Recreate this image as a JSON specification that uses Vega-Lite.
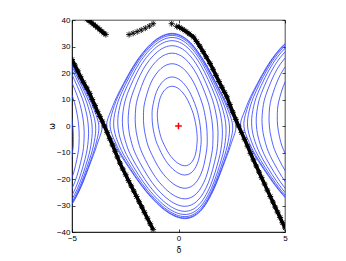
{
"$schema": "https://vega.github.io/schema/vega-lite/v6.json",
"autosize": "none",
"width": 213, "height": 212,
"padding": {"left": 72, "top": 20, "right": 61, "bottom": 29},
"background": "white",
"config": {
  "view": {"stroke": "#000", "strokeWidth": 0.7},
  "axis": {"grid": false, "domainColor": "#000", "domainWidth": 0.7, "tickColor": "#000", "tickWidth": 0.7, "tickSize": -3, "labelColor": "#000", "labelFont": "Liberation Sans", "labelFontSize": 8, "labelFlush": false, "titleFont": "DejaVu Sans", "titleFontSize": 8, "titleFontWeight": "normal", "titleColor": "#000", "labelPadding": 5}
},
"datasets": {
"center": [
{"o":1,"i":0,"d":-0.300,"w":15},{"o":1,"i":1,"d":0.043,"w":13.86},{"o":1,"i":2,"d":0.373,"w":10.61},{"o":1,"i":3,"d":0.646,"w":5.74},{"o":1,"i":4,"d":0.759,"w":2.60},{"o":1,"i":5,"d":0.823,"w":0},{"o":1,"i":6,"d":0.863,"w":-2.60},{"o":1,"i":7,"d":0.876,"w":-5.74},{"o":1,"i":8,"d":0.797,"w":-10.61},{"o":1,"i":9,"d":0.598,"w":-13.86},{"o":1,"i":10,"d":0.300,"w":-15},{"o":1,"i":11,"d":-0.061,"w":-13.86},{"o":1,"i":12,"d":-0.435,"w":-10.61},{"o":1,"i":13,"d":-0.753,"w":-5.74},{"o":1,"i":14,"d":-0.880,"w":-2.60},{"o":1,"i":15,"d":-0.948,"w":0},{"o":1,"i":16,"d":-0.984,"w":2.60},{"o":1,"i":17,"d":-0.983,"w":5.74},{"o":1,"i":18,"d":-0.859,"w":10.61},{"o":1,"i":19,"d":-0.616,"w":13.86},
{"o":2,"i":0,"d":-0.30,"w":18.5},{"o":2,"i":1,"d":0.116,"w":17.09},{"o":2,"i":2,"d":0.507,"w":13.08},{"o":2,"i":3,"d":0.825,"w":7.08},{"o":2,"i":4,"d":0.951,"w":3.21},{"o":2,"i":5,"d":1.019,"w":0},{"o":2,"i":6,"d":1.055,"w":-3.21},{"o":2,"i":7,"d":1.054,"w":-7.08},{"o":2,"i":8,"d":0.931,"w":-13.08},{"o":2,"i":9,"d":0.671,"w":-17.09},{"o":2,"i":10,"d":0.30,"w":-18.5},{"o":2,"i":11,"d":-0.144,"w":-17.09},{"o":2,"i":12,"d":-0.602,"w":-13.08},{"o":2,"i":13,"d":-0.987,"w":-7.08},{"o":2,"i":14,"d":-1.135,"w":-3.21},{"o":2,"i":15,"d":-1.209,"w":0},{"o":2,"i":16,"d":-1.239,"w":3.21},{"o":2,"i":17,"d":-1.217,"w":7.08},{"o":2,"i":18,"d":-1.026,"w":13.08},{"o":2,"i":19,"d":-0.699,"w":17.09},
{"o":3,"i":0,"d":-0.30,"w":23.5},{"o":3,"i":1,"d":0.220,"w":21.71},{"o":3,"i":2,"d":0.701,"w":16.62},{"o":3,"i":3,"d":1.093,"w":8.99},{"o":3,"i":4,"d":1.244,"w":4.08},{"o":3,"i":5,"d":1.319,"w":0},{"o":3,"i":6,"d":1.348,"w":-4.08},{"o":3,"i":7,"d":1.322,"w":-8.99},{"o":3,"i":8,"d":1.125,"w":-16.62},{"o":3,"i":9,"d":0.775,"w":-21.71},{"o":3,"i":10,"d":0.30,"w":-23.5},{"o":3,"i":11,"d":-0.265,"w":-21.71},{"o":3,"i":12,"d":-0.854,"w":-16.62},{"o":3,"i":13,"d":-1.355,"w":-8.99},{"o":3,"i":14,"d":-1.541,"w":-4.08},{"o":3,"i":15,"d":-1.626,"w":0},{"o":3,"i":16,"d":-1.645,"w":4.08},{"o":3,"i":17,"d":-1.584,"w":8.99},{"o":3,"i":18,"d":-1.278,"w":16.62},{"o":3,"i":19,"d":-0.819,"w":21.71},
{"o":4,"i":0,"d":-0.30,"w":27.5},{"o":4,"i":1,"d":0.303,"w":25.41},{"o":4,"i":2,"d":0.861,"w":19.45},{"o":4,"i":3,"d":1.332,"w":10.52},{"o":4,"i":4,"d":1.515,"w":4.77},{"o":4,"i":5,"d":1.598,"w":0},{"o":4,"i":6,"d":1.619,"w":-4.77},{"o":4,"i":7,"d":1.561,"w":-10.52},{"o":4,"i":8,"d":1.285,"w":-19.45},{"o":4,"i":9,"d":0.857,"w":-25.41},{"o":4,"i":10,"d":0.30,"w":-27.5},{"o":4,"i":11,"d":-0.364,"w":-25.41},{"o":4,"i":12,"d":-1.071,"w":-19.45},{"o":4,"i":13,"d":-1.690,"w":-10.52},{"o":4,"i":14,"d":-1.922,"w":-4.77},{"o":4,"i":15,"d":-2.018,"w":0},{"o":4,"i":16,"d":-2.026,"w":4.77},{"o":4,"i":17,"d":-1.920,"w":10.52},{"o":4,"i":18,"d":-1.495,"w":19.45},{"o":4,"i":19,"d":-0.919,"w":25.41},
{"o":5,"i":0,"d":-0.30,"w":30.3},{"o":5,"i":1,"d":0.361,"w":27.99},{"o":5,"i":2,"d":0.978,"w":21.43},{"o":5,"i":3,"d":1.522,"w":11.60},{"o":5,"i":4,"d":1.744,"w":5.26},{"o":5,"i":5,"d":1.840,"w":0},{"o":5,"i":6,"d":1.848,"w":-5.26},{"o":5,"i":7,"d":1.751,"w":-11.60},{"o":5,"i":8,"d":1.402,"w":-21.43},{"o":5,"i":9,"d":0.916,"w":-27.99},{"o":5,"i":10,"d":0.30,"w":-30.3},{"o":5,"i":11,"d":-0.436,"w":-27.99},{"o":5,"i":12,"d":-1.233,"w":-21.43},{"o":5,"i":13,"d":-1.957,"w":-11.60},{"o":5,"i":14,"d":-2.238,"w":-5.26},{"o":5,"i":15,"d":-2.350,"w":0},{"o":5,"i":16,"d":-2.342,"w":5.26},{"o":5,"i":17,"d":-2.186,"w":11.60},{"o":5,"i":18,"d":-1.657,"w":21.43},{"o":5,"i":19,"d":-0.990,"w":27.99},
{"o":6,"i":0,"d":-0.30,"w":32.2},{"o":6,"i":1,"d":0.400,"w":29.75},{"o":6,"i":2,"d":1.061,"w":22.77},{"o":6,"i":3,"d":1.672,"w":12.32},{"o":6,"i":4,"d":1.938,"w":5.59},{"o":6,"i":5,"d":2.048,"w":0},{"o":6,"i":6,"d":2.042,"w":-5.59},{"o":6,"i":7,"d":1.901,"w":-12.32},{"o":6,"i":8,"d":1.485,"w":-22.77},{"o":6,"i":9,"d":0.955,"w":-29.75},{"o":6,"i":10,"d":0.30,"w":-32.2},{"o":6,"i":11,"d":-0.485,"w":-29.75},{"o":6,"i":12,"d":-1.349,"w":-22.77},{"o":6,"i":13,"d":-2.163,"w":-12.32},{"o":6,"i":14,"d":-2.496,"w":-5.59},{"o":6,"i":15,"d":-2.624,"w":0},{"o":6,"i":16,"d":-2.600,"w":5.59},{"o":6,"i":17,"d":-2.393,"w":12.32},{"o":6,"i":18,"d":-1.773,"w":22.77},{"o":6,"i":19,"d":-1.039,"w":29.75},
{"o":7,"i":0,"d":-0.30,"w":33.4},{"o":7,"i":1,"d":0.425,"w":30.86},{"o":7,"i":2,"d":1.114,"w":23.62},{"o":7,"i":3,"d":1.781,"w":12.78},{"o":7,"i":4,"d":2.093,"w":5.80},{"o":7,"i":5,"d":2.225,"w":0},{"o":7,"i":6,"d":2.197,"w":-5.80},{"o":7,"i":7,"d":2.010,"w":-12.78},{"o":7,"i":8,"d":1.538,"w":-23.62},{"o":7,"i":9,"d":0.980,"w":-30.86},{"o":7,"i":10,"d":0.30,"w":-33.4},{"o":7,"i":11,"d":-0.516,"w":-30.86},{"o":7,"i":12,"d":-1.424,"w":-23.62},{"o":7,"i":13,"d":-2.309,"w":-12.78},{"o":7,"i":14,"d":-2.693,"w":-5.80},{"o":7,"i":15,"d":-2.845,"w":0},{"o":7,"i":16,"d":-2.797,"w":5.80},{"o":7,"i":17,"d":-2.539,"w":12.78},{"o":7,"i":18,"d":-1.848,"w":23.62},{"o":7,"i":19,"d":-1.070,"w":30.86},
{"o":8,"i":0,"d":-0.30,"w":34.2},{"o":8,"i":1,"d":0.442,"w":31.60},{"o":8,"i":2,"d":1.151,"w":24.18},{"o":8,"i":3,"d":1.859,"w":13.09},{"o":8,"i":4,"d":2.225,"w":5.94},{"o":8,"i":5,"d":2.392,"w":0},{"o":8,"i":6,"d":2.329,"w":-5.94},{"o":8,"i":7,"d":2.089,"w":-13.09},{"o":8,"i":8,"d":1.576,"w":-24.18},{"o":8,"i":9,"d":0.996,"w":-31.60},{"o":8,"i":10,"d":0.30,"w":-34.2},{"o":8,"i":11,"d":-0.537,"w":-31.60},{"o":8,"i":12,"d":-1.476,"w":-24.18},{"o":8,"i":13,"d":-2.413,"w":-13.09},{"o":8,"i":14,"d":-2.855,"w":-5.94},{"o":8,"i":15,"d":-3.041,"w":0},{"o":8,"i":16,"d":-2.959,"w":5.94},{"o":8,"i":17,"d":-2.643,"w":13.09},{"o":8,"i":18,"d":-1.900,"w":24.18},{"o":8,"i":19,"d":-1.091,"w":31.60},
{"o":9,"i":0,"d":-0.30,"w":34.7},{"o":9,"i":1,"d":0.452,"w":32.06},{"o":9,"i":2,"d":1.174,"w":24.54},{"o":9,"i":3,"d":1.919,"w":13.28},{"o":9,"i":4,"d":2.326,"w":6.02},{"o":9,"i":5,"d":2.545,"w":0},{"o":9,"i":6,"d":2.430,"w":-6.02},{"o":9,"i":7,"d":2.148,"w":-13.28},{"o":9,"i":8,"d":1.599,"w":-24.54},{"o":9,"i":9,"d":1.007,"w":-32.06},{"o":9,"i":10,"d":0.30,"w":-34.7},{"o":9,"i":11,"d":-0.550,"w":-32.06},{"o":9,"i":12,"d":-1.509,"w":-24.54},{"o":9,"i":13,"d":-2.489,"w":-13.28},{"o":9,"i":14,"d":-2.974,"w":-6.02},{"o":9,"i":15,"d":-3.213,"w":0},{"o":9,"i":16,"d":-3.079,"w":6.02},{"o":9,"i":17,"d":-2.719,"w":13.28},{"o":9,"i":18,"d":-1.933,"w":24.54},{"o":9,"i":19,"d":-1.105,"w":32.06},
{"o":10,"i":0,"d":-0.30,"w":34.95},{"o":10,"i":1,"d":0.458,"w":32.29},{"o":10,"i":2,"d":1.186,"w":24.71},{"o":10,"i":3,"d":1.945,"w":13.38},{"o":10,"i":4,"d":2.395,"w":6.07},{"o":10,"i":5,"d":2.697,"w":0},{"o":10,"i":6,"d":2.499,"w":-6.07},{"o":10,"i":7,"d":2.175,"w":-13.38},{"o":10,"i":8,"d":1.611,"w":-24.71},{"o":10,"i":9,"d":1.012,"w":-32.29},{"o":10,"i":10,"d":0.30,"w":-34.95},{"o":10,"i":11,"d":-0.557,"w":-32.29},{"o":10,"i":12,"d":-1.525,"w":-24.71},{"o":10,"i":13,"d":-2.524,"w":-13.38},{"o":10,"i":14,"d":-3.052,"w":-6.07},{"o":10,"i":15,"d":-3.375,"w":0},{"o":10,"i":16,"d":-3.156,"w":6.07},{"o":10,"i":17,"d":-2.754,"w":13.38},{"o":10,"i":18,"d":-1.950,"w":24.71},{"o":10,"i":19,"d":-1.114,"w":32.29}
],
"copies": [
{"o":"R3","i":0,"d":6.583,"w":-23.5},{"o":"R3","i":1,"d":6.018,"w":-21.71},{"o":"R3","i":2,"d":5.429,"w":-16.62},{"o":"R3","i":3,"d":4.928,"w":-8.99},{"o":"R3","i":4,"d":4.742,"w":-4.08},{"o":"R3","i":5,"d":4.657,"w":0},{"o":"R3","i":6,"d":4.638,"w":4.08},{"o":"R3","i":7,"d":4.699,"w":8.99},{"o":"R3","i":8,"d":5.005,"w":16.62},{"o":"R3","i":9,"d":5.464,"w":21.71},{"o":"R3","i":10,"d":5.983,"w":23.5},
{"o":"R4","i":0,"d":6.583,"w":-27.5},{"o":"R4","i":1,"d":5.919,"w":-25.41},{"o":"R4","i":2,"d":5.212,"w":-19.45},{"o":"R4","i":3,"d":4.593,"w":-10.52},{"o":"R4","i":4,"d":4.361,"w":-4.77},{"o":"R4","i":5,"d":4.265,"w":0},{"o":"R4","i":6,"d":4.257,"w":4.77},{"o":"R4","i":7,"d":4.363,"w":10.52},{"o":"R4","i":8,"d":4.788,"w":19.45},{"o":"R4","i":9,"d":5.364,"w":25.41},{"o":"R4","i":10,"d":5.983,"w":27.5},
{"o":"R5","i":0,"d":6.583,"w":-30.3},{"o":"R5","i":1,"d":5.847,"w":-27.99},{"o":"R5","i":2,"d":5.050,"w":-21.43},{"o":"R5","i":3,"d":4.326,"w":-11.60},{"o":"R5","i":4,"d":4.045,"w":-5.26},{"o":"R5","i":5,"d":3.933,"w":0},{"o":"R5","i":6,"d":3.941,"w":5.26},{"o":"R5","i":7,"d":4.097,"w":11.60},{"o":"R5","i":8,"d":4.626,"w":21.43},{"o":"R5","i":9,"d":5.293,"w":27.99},{"o":"R5","i":10,"d":5.983,"w":30.3},
{"o":"R6","i":0,"d":6.583,"w":-32.2},{"o":"R6","i":1,"d":5.798,"w":-29.75},{"o":"R6","i":2,"d":4.934,"w":-22.77},{"o":"R6","i":3,"d":4.120,"w":-12.32},{"o":"R6","i":4,"d":3.787,"w":-5.59},{"o":"R6","i":5,"d":3.659,"w":0},{"o":"R6","i":6,"d":3.683,"w":5.59},{"o":"R6","i":7,"d":3.890,"w":12.32},{"o":"R6","i":8,"d":4.510,"w":22.77},{"o":"R6","i":9,"d":5.244,"w":29.75},{"o":"R6","i":10,"d":5.983,"w":32.2},
{"o":"R7","i":0,"d":6.583,"w":-33.4},{"o":"R7","i":1,"d":5.767,"w":-30.86},{"o":"R7","i":2,"d":4.859,"w":-23.62},{"o":"R7","i":3,"d":3.974,"w":-12.78},{"o":"R7","i":4,"d":3.590,"w":-5.80},{"o":"R7","i":5,"d":3.438,"w":0},{"o":"R7","i":6,"d":3.486,"w":5.80},{"o":"R7","i":7,"d":3.744,"w":12.78},{"o":"R7","i":8,"d":4.435,"w":23.62},{"o":"R7","i":9,"d":5.213,"w":30.86},{"o":"R7","i":10,"d":5.983,"w":33.4},
{"o":"R8","i":0,"d":6.583,"w":-34.2},{"o":"R8","i":1,"d":5.746,"w":-31.60},{"o":"R8","i":2,"d":4.807,"w":-24.18},{"o":"R8","i":3,"d":3.870,"w":-13.09},{"o":"R8","i":4,"d":3.428,"w":-5.94},{"o":"R8","i":5,"d":3.242,"w":0},{"o":"R8","i":6,"d":3.324,"w":5.94},{"o":"R8","i":7,"d":3.640,"w":13.09},{"o":"R8","i":8,"d":4.383,"w":24.18},{"o":"R8","i":9,"d":5.192,"w":31.60},{"o":"R8","i":10,"d":5.983,"w":34.2},
{"o":"R9","i":0,"d":6.583,"w":-34.7},{"o":"R9","i":1,"d":5.733,"w":-32.06},{"o":"R9","i":2,"d":4.774,"w":-24.54},{"o":"R9","i":3,"d":3.794,"w":-13.28},{"o":"R9","i":4,"d":3.309,"w":-6.02},{"o":"R9","i":5,"d":3.070,"w":0},{"o":"R9","i":6,"d":3.204,"w":6.02},{"o":"R9","i":7,"d":3.564,"w":13.28},{"o":"R9","i":8,"d":4.350,"w":24.54},{"o":"R9","i":9,"d":5.178,"w":32.06},{"o":"R9","i":10,"d":5.983,"w":34.7},
{"o":"R10","i":0,"d":6.583,"w":-34.95},{"o":"R10","i":1,"d":5.726,"w":-32.29},{"o":"R10","i":2,"d":4.758,"w":-24.71},{"o":"R10","i":3,"d":3.759,"w":-13.38},{"o":"R10","i":4,"d":3.231,"w":-6.07},{"o":"R10","i":5,"d":2.908,"w":0},{"o":"R10","i":6,"d":3.127,"w":6.07},{"o":"R10","i":7,"d":3.529,"w":13.38},{"o":"R10","i":8,"d":4.333,"w":24.71},{"o":"R10","i":9,"d":5.169,"w":32.29},{"o":"R10","i":10,"d":5.983,"w":34.95},
{"o":"L3","i":0,"d":-6.583,"w":23.5},{"o":"L3","i":1,"d":-6.063,"w":21.71},{"o":"L3","i":2,"d":-5.582,"w":16.62},{"o":"L3","i":3,"d":-5.190,"w":8.99},{"o":"L3","i":4,"d":-5.039,"w":4.08},{"o":"L3","i":5,"d":-4.964,"w":0},{"o":"L3","i":6,"d":-4.935,"w":-4.08},{"o":"L3","i":7,"d":-4.961,"w":-8.99},{"o":"L3","i":8,"d":-5.158,"w":-16.62},{"o":"L3","i":9,"d":-5.508,"w":-21.71},{"o":"L3","i":10,"d":-5.983,"w":-23.5},
{"o":"L4","i":0,"d":-6.583,"w":27.5},{"o":"L4","i":1,"d":-5.980,"w":25.41},{"o":"L4","i":2,"d":-5.422,"w":19.45},{"o":"L4","i":3,"d":-4.951,"w":10.52},{"o":"L4","i":4,"d":-4.768,"w":4.77},{"o":"L4","i":5,"d":-4.685,"w":0},{"o":"L4","i":6,"d":-4.664,"w":-4.77},{"o":"L4","i":7,"d":-4.722,"w":-10.52},{"o":"L4","i":8,"d":-4.998,"w":-19.45},{"o":"L4","i":9,"d":-5.426,"w":-25.41},{"o":"L4","i":10,"d":-5.983,"w":-27.5},
{"o":"L5","i":0,"d":-6.583,"w":30.3},{"o":"L5","i":1,"d":-5.922,"w":27.99},{"o":"L5","i":2,"d":-5.305,"w":21.43},{"o":"L5","i":3,"d":-4.761,"w":11.60},{"o":"L5","i":4,"d":-4.539,"w":5.26},{"o":"L5","i":5,"d":-4.443,"w":0},{"o":"L5","i":6,"d":-4.435,"w":-5.26},{"o":"L5","i":7,"d":-4.532,"w":-11.60},{"o":"L5","i":8,"d":-4.881,"w":-21.43},{"o":"L5","i":9,"d":-5.367,"w":-27.99},{"o":"L5","i":10,"d":-5.983,"w":-30.3},
{"o":"L6","i":0,"d":-6.583,"w":32.2},{"o":"L6","i":1,"d":-5.883,"w":29.75},{"o":"L6","i":2,"d":-5.222,"w":22.77},{"o":"L6","i":3,"d":-4.611,"w":12.32},{"o":"L6","i":4,"d":-4.345,"w":5.59},{"o":"L6","i":5,"d":-4.235,"w":0},{"o":"L6","i":6,"d":-4.241,"w":-5.59},{"o":"L6","i":7,"d":-4.382,"w":-12.32},{"o":"L6","i":8,"d":-4.798,"w":-22.77},{"o":"L6","i":9,"d":-5.328,"w":-29.75},{"o":"L6","i":10,"d":-5.983,"w":-32.2},
{"o":"L7","i":0,"d":-6.583,"w":33.4},{"o":"L7","i":1,"d":-5.858,"w":30.86},{"o":"L7","i":2,"d":-5.169,"w":23.62},{"o":"L7","i":3,"d":-4.502,"w":12.78},{"o":"L7","i":4,"d":-4.190,"w":5.80},{"o":"L7","i":5,"d":-4.058,"w":0},{"o":"L7","i":6,"d":-4.086,"w":-5.80},{"o":"L7","i":7,"d":-4.273,"w":-12.78},{"o":"L7","i":8,"d":-4.745,"w":-23.62},{"o":"L7","i":9,"d":-5.303,"w":-30.86},{"o":"L7","i":10,"d":-5.983,"w":-33.4},
{"o":"L8","i":0,"d":-6.583,"w":34.2},{"o":"L8","i":1,"d":-5.841,"w":31.60},{"o":"L8","i":2,"d":-5.132,"w":24.18},{"o":"L8","i":3,"d":-4.424,"w":13.09},{"o":"L8","i":4,"d":-4.058,"w":5.94},{"o":"L8","i":5,"d":-3.891,"w":0},{"o":"L8","i":6,"d":-3.954,"w":-5.94},{"o":"L8","i":7,"d":-4.194,"w":-13.09},{"o":"L8","i":8,"d":-4.707,"w":-24.18},{"o":"L8","i":9,"d":-5.287,"w":-31.60},{"o":"L8","i":10,"d":-5.983,"w":-34.2},
{"o":"L9","i":0,"d":-6.583,"w":34.7},{"o":"L9","i":1,"d":-5.831,"w":32.06},{"o":"L9","i":2,"d":-5.109,"w":24.54},{"o":"L9","i":3,"d":-4.364,"w":13.28},{"o":"L9","i":4,"d":-3.957,"w":6.02},{"o":"L9","i":5,"d":-3.738,"w":0},{"o":"L9","i":6,"d":-3.853,"w":-6.02},{"o":"L9","i":7,"d":-4.135,"w":-13.28},{"o":"L9","i":8,"d":-4.684,"w":-24.54},{"o":"L9","i":9,"d":-5.276,"w":-32.06},{"o":"L9","i":10,"d":-5.983,"w":-34.7},
{"o":"L10","i":0,"d":-6.583,"w":34.95},{"o":"L10","i":1,"d":-5.825,"w":32.29},{"o":"L10","i":2,"d":-5.097,"w":24.71},{"o":"L10","i":3,"d":-4.338,"w":13.38},{"o":"L10","i":4,"d":-3.888,"w":6.07},{"o":"L10","i":5,"d":-3.586,"w":0},{"o":"L10","i":6,"d":-3.784,"w":-6.07},{"o":"L10","i":7,"d":-4.108,"w":-13.38},{"o":"L10","i":8,"d":-4.672,"w":-24.71},{"o":"L10","i":9,"d":-5.271,"w":-32.29},{"o":"L10","i":10,"d":-5.983,"w":-34.95}
],
"stars": [
{"s":"R","i":0,"d":-0.085,"w":37.6},{"s":"R","i":1,"d":0.05,"w":37.2},{"s":"R","i":2,"d":0.2,"w":36.5},{"s":"R","i":3,"d":0.35,"w":35.7},{"s":"R","i":4,"d":0.5,"w":34.8},{"s":"R","i":5,"d":0.7,"w":33.6},{"s":"R","i":6,"d":0.85,"w":31.9},{"s":"R","i":7,"d":1.0,"w":30.1},{"s":"R","i":8,"d":1.15,"w":28.1},{"s":"R","i":9,"d":1.3,"w":26.1},{"s":"R","i":10,"d":1.48,"w":23.6},{"s":"R","i":11,"d":1.62,"w":21.4},{"s":"R","i":12,"d":1.76,"w":19.1},{"s":"R","i":13,"d":1.9,"w":16.8},{"s":"R","i":14,"d":2.04,"w":14.6},{"s":"R","i":15,"d":2.16,"w":12.7},{"s":"R","i":16,"d":2.27,"w":11.0},{"s":"R","i":17,"d":2.41,"w":8.1},{"s":"R","i":18,"d":2.55,"w":5.2},{"s":"R","i":19,"d":2.69,"w":2.5},{"s":"R","i":20,"d":2.82,"w":0},{"s":"R","i":21,"d":2.96,"w":-2.5},{"s":"R","i":22,"d":3.1,"w":-5},{"s":"R","i":23,"d":3.24,"w":-7.6},{"s":"R","i":24,"d":3.38,"w":-10.3},{"s":"R","i":25,"d":3.52,"w":-12.8},{"s":"R","i":26,"d":3.65,"w":-15.1},{"s":"R","i":27,"d":3.78,"w":-17.4},{"s":"R","i":28,"d":3.9,"w":-19.5},{"s":"R","i":29,"d":4.04,"w":-21.9},{"s":"R","i":30,"d":4.17,"w":-24.2},{"s":"R","i":31,"d":4.31,"w":-26.6},{"s":"R","i":32,"d":4.43,"w":-28.7},{"s":"R","i":33,"d":4.54,"w":-30.6},{"s":"R","i":34,"d":4.65,"w":-32.5},{"s":"R","i":35,"d":4.77,"w":-34.5},{"s":"R","i":36,"d":4.88,"w":-36.5},{"s":"R","i":37,"d":5.0,"w":-38.5},
{"s":"L","i":0,"d":-5.0,"w":25.1},{"s":"L","i":1,"d":-4.87,"w":23.0},{"s":"L","i":2,"d":-4.73,"w":20.8},{"s":"L","i":3,"d":-4.6,"w":18.6},{"s":"L","i":4,"d":-4.46,"w":16.5},{"s":"L","i":5,"d":-4.31,"w":14.4},{"s":"L","i":6,"d":-4.17,"w":12.3},{"s":"L","i":7,"d":-4.05,"w":10.0},{"s":"L","i":8,"d":-3.92,"w":7.7},{"s":"L","i":9,"d":-3.8,"w":5.4},{"s":"L","i":10,"d":-3.69,"w":3.6},{"s":"L","i":11,"d":-3.58,"w":1.8},{"s":"L","i":12,"d":-3.48,"w":0},{"s":"L","i":13,"d":-3.35,"w":-2.4},{"s":"L","i":14,"d":-3.23,"w":-4.8},{"s":"L","i":15,"d":-3.1,"w":-7.2},{"s":"L","i":16,"d":-2.98,"w":-9.5},{"s":"L","i":17,"d":-2.87,"w":-11.7},{"s":"L","i":18,"d":-2.75,"w":-14},{"s":"L","i":19,"d":-2.62,"w":-16.2},{"s":"L","i":20,"d":-2.48,"w":-18.4},{"s":"L","i":21,"d":-2.35,"w":-20.6},{"s":"L","i":22,"d":-2.22,"w":-22.6},{"s":"L","i":23,"d":-2.1,"w":-24.6},{"s":"L","i":24,"d":-1.97,"w":-26.6},{"s":"L","i":25,"d":-1.85,"w":-28.6},{"s":"L","i":26,"d":-1.72,"w":-30.6},{"s":"L","i":27,"d":-1.6,"w":-32.6},{"s":"L","i":28,"d":-1.46,"w":-34.8},{"s":"L","i":29,"d":-1.33,"w":-36.9},{"s":"L","i":30,"d":-1.19,"w":-39.1},
{"s":"T","i":0,"d":-4.3,"w":40.3},{"s":"T","i":1,"d":-4.2,"w":39.7},{"s":"T","i":2,"d":-4.1,"w":39.1},{"s":"T","i":3,"d":-4.0,"w":38.4},{"s":"T","i":4,"d":-3.9,"w":37.8},{"s":"T","i":5,"d":-3.8,"w":37.1},{"s":"T","i":6,"d":-3.7,"w":36.4},{"s":"T","i":7,"d":-3.6,"w":35.7},{"s":"T","i":8,"d":-3.5,"w":35.0},{"s":"T","i":9,"d":-3.41,"w":34.5},
{"s":"H","i":0,"d":-2.32,"w":34.5},{"s":"H","i":1,"d":-2.13,"w":35.0},{"s":"H","i":2,"d":-1.94,"w":35.6},{"s":"H","i":3,"d":-1.75,"w":36.2},{"s":"H","i":4,"d":-1.56,"w":36.9},{"s":"H","i":5,"d":-1.37,"w":37.7},{"s":"H","i":6,"d":-1.19,"w":38.6},{"s":"H","i":7,"d":-0.32,"w":38.6}
]
},
"resolve": {"axis": {"x": "independent", "y": "independent"}},
"layer": [
{
  "data": {"name": "center"},
  "mark": {"type": "line", "interpolate": "cardinal-closed", "stroke": "#2a3cff", "strokeWidth": 0.8, "clip": true},
  "encoding": {
    "x": {"field": "d", "type": "quantitative", "scale": {"domain": [-5, 5], "nice": false, "zero": false}, "axis": {"values": [-5, 0, 5], "title": "δ"}},
    "y": {"field": "w", "type": "quantitative", "scale": {"domain": [-40, 40], "nice": false, "zero": false}, "axis": {"values": [-40, -30, -20, -10, 0, 10, 20, 30, 40], "title": "ω", "titlePadding": 0}},
    "detail": {"field": "o"},
    "order": {"field": "i", "type": "quantitative"}
  }
},
{
  "data": {"name": "copies"},
  "mark": {"type": "line", "interpolate": "cardinal", "stroke": "#2a3cff", "strokeWidth": 0.8, "clip": true},
  "encoding": {
    "x": {"field": "d", "type": "quantitative", "axis": null},
    "y": {"field": "w", "type": "quantitative", "axis": null},
    "detail": {"field": "o"},
    "order": {"field": "i", "type": "quantitative"}
  }
},
{
  "data": {"name": "stars"},
  "transform": [{"filter": "datum.s != 'H'"}],
  "mark": {"type": "line", "stroke": "#000", "strokeWidth": 3.6, "clip": true},
  "encoding": {
    "x": {"field": "d", "type": "quantitative", "axis": null},
    "y": {"field": "w", "type": "quantitative", "axis": null},
    "detail": {"field": "s"},
    "order": {"field": "i", "type": "quantitative"}
  }
},
{
  "data": {"name": "stars"},
  "mark": {"type": "point", "shape": "M-1,0L1,0M0,-1L0,1M-0.7,-0.7L0.7,0.7M-0.7,0.7L0.7,-0.7", "filled": false, "stroke": "#000", "strokeWidth": 0.9, "size": 36, "opacity": 1, "clip": true},
  "encoding": {
    "x": {"field": "d", "type": "quantitative", "axis": null},
    "y": {"field": "w", "type": "quantitative", "axis": null}
  }
},
{
  "data": {"values": [{"d": 0, "w": 0}]},
  "mark": {"type": "point", "shape": "M-1,0L1,0M0,-1L0,1", "filled": false, "stroke": "#ff0000", "strokeWidth": 1.5, "size": 45, "opacity": 1},
  "encoding": {
    "x": {"field": "d", "type": "quantitative", "axis": {"orient": "top", "values": [-5, 0, 5], "labels": false, "title": null, "domain": false}},
    "y": {"field": "w", "type": "quantitative", "axis": {"orient": "right", "values": [-40, -30, -20, -10, 0, 10, 20, 30, 40], "labels": false, "title": null, "domain": false}}
  }
}
]
}
